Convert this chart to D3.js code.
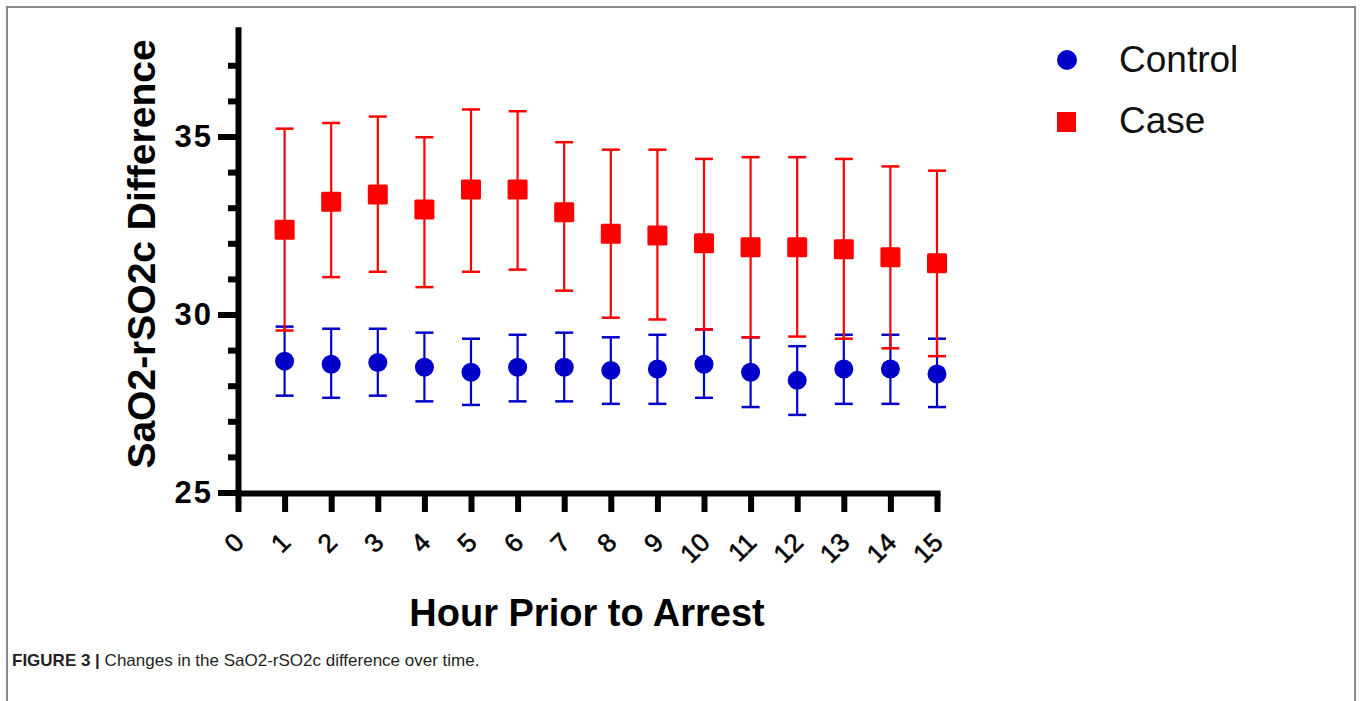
<!DOCTYPE html>
<html>
<head>
<meta charset="utf-8">
<script src="https://cdn.jsdelivr.net/npm/d3@7"></script>
<style>
  html, body { margin: 0; padding: 0; background: #fff; }
  svg { display: block; }
</style>
</head>
<body>
<svg id="chart" width="1360" height="701"></svg>
<script>
// ---- Data ----
const hours = [1, 2, 3, 4, 5, 6, 7, 8, 9, 10, 11, 12, 13, 14, 15];
const xTickLabels = [0, 1, 2, 3, 4, 5, 6, 7, 8, 9, 10, 11, 12, 13, 14, 15];
const yMajorTicks = [25, 30, 35];
const yMinorTicks = [26, 27, 28, 29, 31, 32, 33, 34, 36, 37];

const controlMean  = [28.69, 28.60, 28.65, 28.52, 28.38, 28.52, 28.52, 28.43, 28.47, 28.60, 28.38, 28.15, 28.47, 28.47, 28.33];
const controlUpper = [29.66, 29.60, 29.60, 29.49, 29.32, 29.43, 29.49, 29.36, 29.43, 29.58, 29.36, 29.11, 29.43, 29.43, 29.32];
const controlLower = [27.72, 27.66, 27.72, 27.56, 27.46, 27.56, 27.56, 27.49, 27.49, 27.66, 27.40, 27.18, 27.49, 27.49, 27.40];

const caseMean  = [32.38, 33.17, 33.37, 32.95, 33.51, 33.51, 32.87, 32.27, 32.22, 32.00, 31.89, 31.89, 31.83, 31.61, 31.44];
const caseUpper = [35.22, 35.38, 35.56, 34.98, 35.76, 35.71, 34.84, 34.63, 34.63, 34.37, 34.42, 34.42, 34.37, 34.16, 34.04];
const caseLower = [29.55, 31.05, 31.20, 30.77, 31.20, 31.26, 30.67, 29.91, 29.86, 29.58, 29.36, 29.38, 29.32, 29.05, 28.83];

const seriesNames = ["Control", "Case"];
const seriesColors = ["#0000c8", "#ff0000"];
const yTitle = "SaO2-rSO2c Difference";
const xTitle = "Hour Prior to Arrest";

// ---- Layout ----
const svg = d3.select("#chart");
const FONT = "'Liberation Sans', Arial, Helvetica, sans-serif";

// frame
svg.append("rect")
  .attr("x", 7).attr("y", 7).attr("width", 1348).attr("height", 720)
  .attr("fill", "none").attr("stroke", "#8a8a8a").attr("stroke-width", 2);

const x = d3.scaleLinear().domain([0, 15]).range([238, 937]);
const y = d3.scaleLinear().domain([25, 38]).range([492.5, 29.7]);

// ---- Axes ----
const gy = svg.append("g").attr("transform", "translate(238,0)");
gy.call(d3.axisLeft(y).tickValues(yMajorTicks).tickSize(20).tickSizeOuter(0).tickPadding(5));
const gyMinor = svg.append("g").attr("transform", "translate(238,0)");
gyMinor.call(d3.axisLeft(y).tickValues(yMinorTicks).tickSize(10).tickSizeOuter(0).tickFormat(""));
gyMinor.select(".domain").remove();

[gy, gyMinor].forEach(g => {
  g.selectAll(".domain").attr("stroke", "#000").attr("stroke-width", 6).attr("stroke-linecap", "square");
  g.selectAll(".tick line").attr("stroke", "#000").attr("stroke-width", 6);
});
gy.selectAll(".tick text")
  .attr("fill", "#000")
  .style("font-family", FONT).style("font-size", "31px").style("font-weight", "bold")
  .style("letter-spacing", "2px");

const gx = svg.append("g").attr("transform", "translate(0,493)");
gx.call(d3.axisBottom(x).tickValues(xTickLabels).tickSize(19).tickSizeOuter(0).tickFormat(d3.format("d")));
gx.selectAll(".domain").attr("stroke", "#000").attr("stroke-width", 6).attr("stroke-linecap", "square");
gx.selectAll(".tick line").attr("stroke", "#000").attr("stroke-width", 6);
gx.selectAll(".tick text")
  .attr("fill", "#000")
  .attr("stroke", "#000").attr("stroke-width", 0.6)
  .attr("x", 0).attr("y", 0).attr("dy", 0)
  .attr("text-anchor", "end")
  .attr("transform", "translate(7,51) rotate(-45)")
  .style("font-family", FONT).style("font-size", "26px");

// ---- Axis titles ----
svg.append("text")
  .attr("transform", `translate(155,254) rotate(-90)`)
  .attr("text-anchor", "middle")
  .style("font-family", FONT).style("font-size", "39px").style("font-weight", "bold")
  .text(yTitle);

svg.append("text")
  .attr("x", 587).attr("y", 626)
  .attr("text-anchor", "middle")
  .style("font-family", FONT).style("font-size", "38px").style("font-weight", "bold")
  .text(xTitle);

// ---- Series ----
const capHalf = 9;
function drawSeries(mean, lower, upper, color, shape) {
  const data = hours.map((h, i) => ({ h, m: mean[i], lo: lower[i], hi: upper[i] }));
  const g = svg.append("g");
  g.selectAll("line.stem").data(data).join("line")
    .attr("x1", d => x(d.h)).attr("x2", d => x(d.h))
    .attr("y1", d => y(d.lo)).attr("y2", d => y(d.hi))
    .attr("stroke", color).attr("stroke-width", 2.2);
  g.selectAll("line.capHi").data(data).join("line")
    .attr("x1", d => x(d.h) - capHalf).attr("x2", d => x(d.h) + capHalf)
    .attr("y1", d => y(d.hi)).attr("y2", d => y(d.hi))
    .attr("stroke", color).attr("stroke-width", 2.5);
  g.selectAll("line.capLo").data(data).join("line")
    .attr("x1", d => x(d.h) - capHalf).attr("x2", d => x(d.h) + capHalf)
    .attr("y1", d => y(d.lo)).attr("y2", d => y(d.lo))
    .attr("stroke", color).attr("stroke-width", 2.5);
  if (shape === "circle") {
    g.selectAll("circle").data(data).join("circle")
      .attr("cx", d => x(d.h)).attr("cy", d => y(d.m)).attr("r", 9.5)
      .attr("fill", color);
  } else {
    g.selectAll("rect").data(data).join("rect")
      .attr("x", d => x(d.h) - 10).attr("y", d => y(d.m) - 10)
      .attr("width", 20).attr("height", 20).attr("rx", 1.5)
      .attr("fill", color);
  }
}
drawSeries(controlMean, controlLower, controlUpper, seriesColors[0], "circle");
drawSeries(caseMean, caseLower, caseUpper, seriesColors[1], "square");

// ---- Legend ----
const lg = svg.append("g");
lg.append("circle").attr("cx", 1067).attr("cy", 60).attr("r", 10).attr("fill", seriesColors[0]);
lg.append("rect").attr("x", 1057).attr("y", 112).attr("width", 19).attr("height", 20).attr("fill", seriesColors[1]);
lg.selectAll("text").data(seriesNames).join("text")
  .attr("x", 1119).attr("y", (d, i) => 72 + i * 61)
  .style("font-family", FONT).style("font-size", "37px").attr("fill", "#111")
  .text(d => d);

// ---- Caption ----
const cap = svg.append("text").attr("x", 12).attr("y", 666)
  .style("font-family", FONT).style("font-size", "17px").attr("fill", "#231f20");
cap.append("tspan").style("font-weight", "bold").text("FIGURE 3 | ");
cap.append("tspan").text("Changes in the SaO2-rSO2c difference over time.");
</script>
</body>
</html>
